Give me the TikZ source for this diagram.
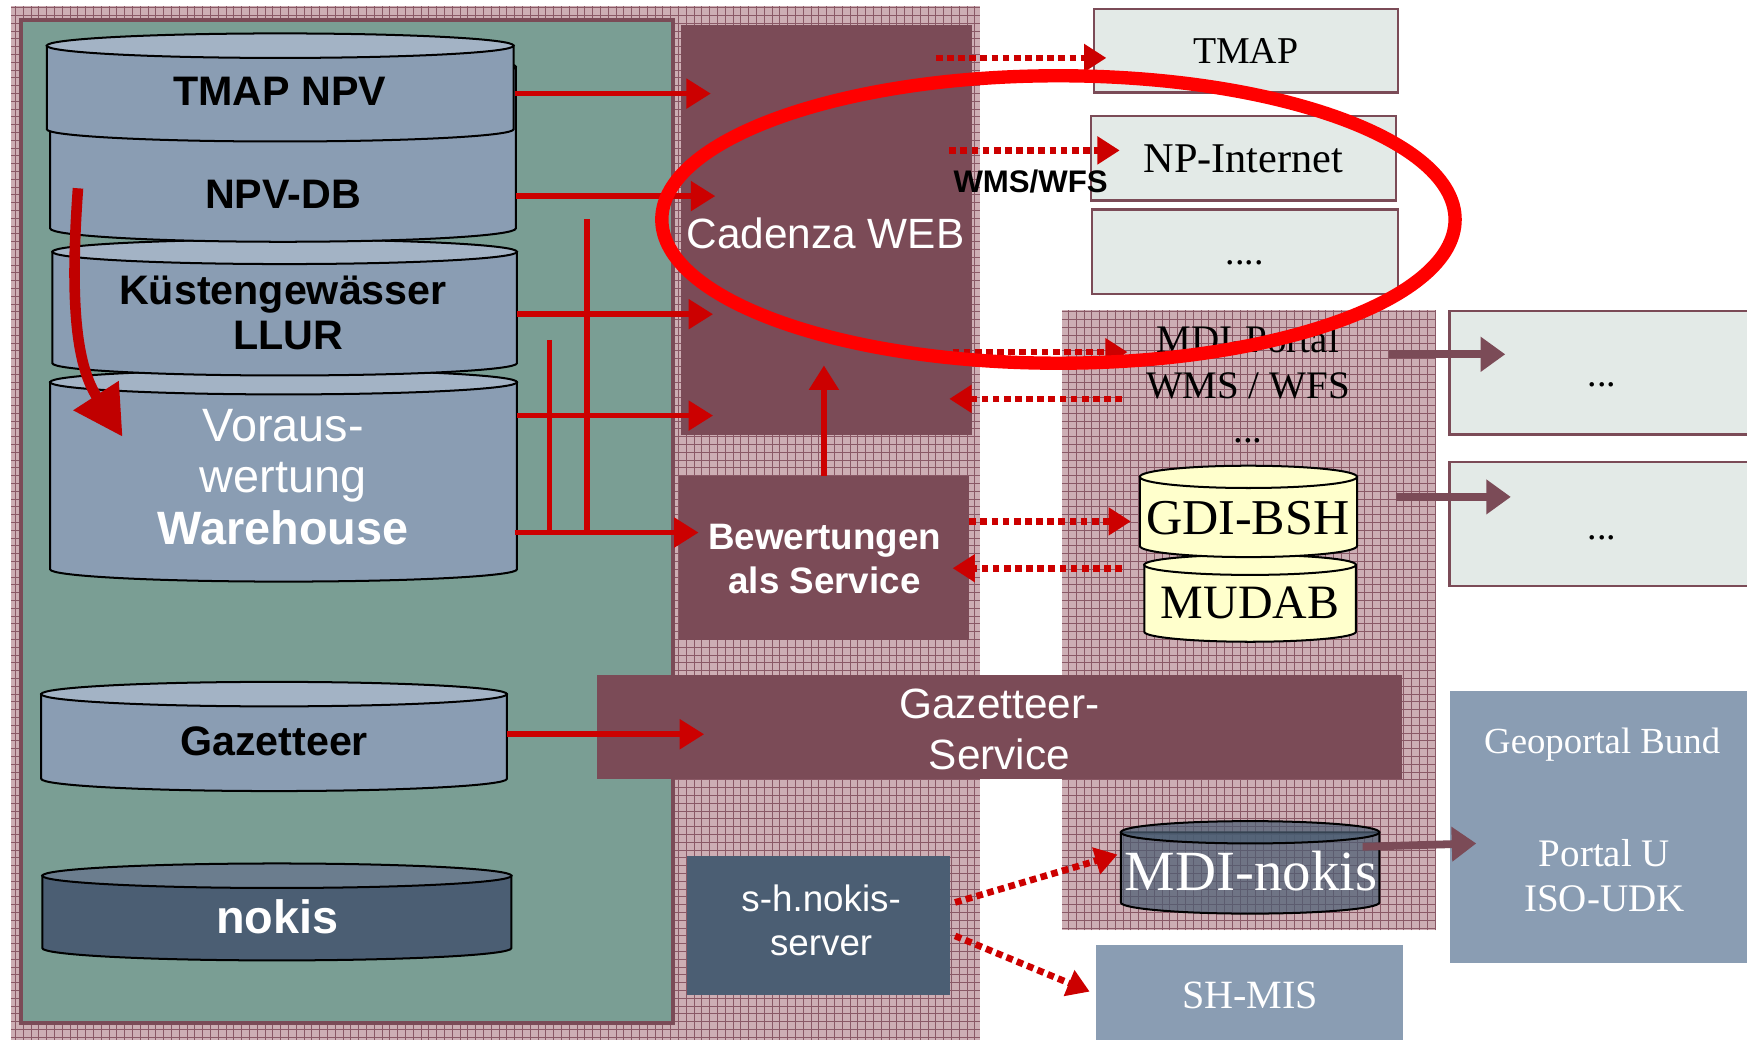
\documentclass[tikz,border=0pt]{standalone}
\usepackage{fontspec}
\setmainfont{Liberation Serif}
\newfontfamily\arialf{Liberation Sans}
\usetikzlibrary{arrows.meta}
\definecolor{mauve}{HTML}{7B4B57}
\definecolor{greenpanel}{HTML}{7A9E94}
\definecolor{cylbody}{HTML}{8A9DB3}
\definecolor{cyltop}{HTML}{A3B3C5}
\definecolor{slate}{HTML}{4B5E73}
\definecolor{slatetop}{HTML}{6B7D8E}
\definecolor{lightbox}{HTML}{E3EAE7}
\definecolor{yellowcyl}{HTML}{FFFFCC}
\definecolor{arrred}{HTML}{CC0000}
\definecolor{curvred}{HTML}{C00000}
\definecolor{hatchbg}{HTML}{CDAEB4}
\definecolor{hatchline}{HTML}{8A5966}
\newcommand\fsz[2]{\fontsize{#1}{#2}\selectfont}
\newcommand\hatchrect[4]{%
  \fill[hatchbg] (#1,#2) rectangle (#3,#4);
  \begin{scope}
    \clip (#1,#2) rectangle (#3,#4);
    \draw[hatchline, line width=0.9] (#1,#4) grid[step=7pt] (#3,#2);
  \end{scope}}
\newcommand\dbcyl[8]{% x1 x2 ytop ybot ry body top extra
  \pgfmathsetmacro\cylr{(#2-#1)/2}
  \pgfmathsetmacro\cylx{(#1+#2)/2}
  \filldraw[cylline, fill=#6, #8] (#1,#3) -- (#1,#4) arc[start angle=180,end angle=0,x radius=\cylr,y radius=#5] -- (#2,#3) -- cycle;
  \filldraw[cylline, fill=#7, #8] (\cylx,#3) ellipse[x radius=\cylr, y radius=#5];}
\tikzset{
  cylline/.style={draw=black, line width=1.8},
  mbox/.style={rectangle, inner sep=0, outer sep=0, fill=mauve},
  lbox/.style={rectangle, inner sep=0, outer sep=0, fill=lightbox, draw=mauve, line width=2},
  bbox/.style={rectangle, inner sep=0, outer sep=0, fill=cylbody},
  txt/.style={inner sep=0, anchor=base, align=center},
  sansB/.style={txt, font=\arialf\bfseries\fsz{#1}{#1}},
  sansR/.style={txt, font=\arialf\fsz{#1}{#1}},
  serifR/.style={txt, font=\fsz{#1}{#1}},
  redarr/.style={draw=arrred, line width=5, -{Triangle[length=22pt,width=26pt]}},
  redline/.style={draw=arrred, line width=5},
  dotarr/.style={draw=arrred, line width=6, dash pattern=on 6pt off 4pt, -{Triangle[length=20pt,width=24pt]}},
  mauvearr/.style={draw=mauve, line width=7, -{Triangle[length=22pt,width=30pt]}},
}
\begin{document}
\begin{tikzpicture}[x=1pt,y=-1pt]
\useasboundingbox[fill=white] (0,0) rectangle (1568,933);
% patterned regions
\hatchrect{10}{5}{880}{940}
\hatchrect{953}{278}{1289}{835}
% green panel
\filldraw[fill=greenpanel, draw=mauve, line width=4] (19,18) rectangle (604,918);
% boxes
\node[mbox, minimum width=261, minimum height=368] (cadenza) at (741.5,206) {};
\node[mbox, minimum width=261, minimum height=147] (bew) at (739.5,500.5) {};
\node[mbox, minimum width=722, minimum height=93] (gazserv) at (897,652.5) {};
\node[rectangle, inner sep=0, fill=slate, minimum width=236, minimum height=125] (nokisserver) at (735,830.5) {};
\node[lbox, minimum width=273, minimum height=75] (tmap) at (1118.5,45.5) {};
\node[lbox, minimum width=274, minimum height=76] (npint) at (1116,142) {};
\node[lbox, minimum width=275, minimum height=76] (dotsbox) at (1117.5,226) {};
\node[lbox, minimum width=280, minimum height=111] (rbox1) at (1441,334.5) {};
\node[lbox, minimum width=280, minimum height=111] (rbox2) at (1441,470.5) {};
\node[bbox, minimum width=279, minimum height=244] (geo) at (1440.5,742) {};
\node[bbox, minimum width=275, minimum height=92] (shmis) at (1121.5,894) {};
% left cylinders
\dbcyl{45}{464}{343}{511}{11}{cylbody}{cyltop}{}
\dbcyl{47}{464}{226}{326}{11}{cylbody}{cyltop}{}
\dbcyl{45}{463}{60}{205}{12}{cylbody}{cyltop}{}
\dbcyl{42}{461}{41}{116}{11}{cylbody}{cyltop}{}
\dbcyl{37}{455}{623}{699}{11}{cylbody}{cyltop}{}
\dbcyl{38}{459}{786}{851}{11}{slate}{slatetop}{}
% right cylinders
\dbcyl{1027}{1217}{507}{567}{9}{yellowcyl}{yellowcyl}{}
\dbcyl{1023}{1218}{428}{490}{10}{yellowcyl}{yellowcyl}{}
\dbcyl{1006}{1238}{747}{810}{10}{slate}{slate}{fill opacity=0.72}
% connector end points on the cylinders
\coordinate (tmapnpv) at (462,84);
\coordinate (npvdb) at (463,176);
\coordinate (kuesten) at (464,282);
\coordinate (warehouse) at (464,373);
\coordinate (warehouseB) at (462,478);
\coordinate (gazetteer) at (455,659);
\coordinate (gdibsh) at (1015,468);
\coordinate (mdiportal) at (1012,316);
\coordinate (mdinokis) at (1003,767);
\coordinate (curvestart) at (70,169);
\coordinate (curveend) at (110,392);
% texts left
\node[sansB=37] (t1) at (251,95) {TMAP NPV};
\node[sansB=37] (t2) at (254,187) {NPV-DB};
\node[sansB=37] (t3) at (254,273) {Küstengewässer};
\node[sansB=37] (t4) at (259,314) {LLUR};
\node[sansR=42, text=white] (t5) at (254,396) {Voraus-};
\node[sansR=42, text=white] (t6) at (254,442) {wertung};
\node[sansB=42, text=white] (t7) at (254,489) {Warehouse};
\node[sansB=37] (t8) at (246,678) {Gazetteer};
\node[sansB=42, text=white] (t9) at (249,838) {nokis};
% texts middle
\node[sansR=38, text=white] (t10) at (741,223) {Cadenza WEB};
\node[sansB=33, text=white] (t11) at (740,493) {Bewertungen};
\node[sansB=33, text=white] (t12) at (740,533) {als Service};
\node[sansR=38, text=white] (t13) at (897,645) {Gazetteer-};
\node[sansR=38, text=white] (t14) at (897,691) {Service};
\node[sansR=33, text=white] (t15) at (737,818) {s-h.nokis-};
\node[sansR=33, text=white] (t16) at (737,858) {server};
\node[sansB=28] (t17) at (925,173) {WMS/WFS};
% texts right
\node[serifR=34] (t18) at (1118,57) {TMAP};
\node[serifR=38] (t19) at (1116,155) {NP-Internet};
\node[serifR=34] (t20) at (1117,237) {....};
\node[serifR=35] (t21) at (1120,316) {MDI-Portal};
\node[serifR=35] (t22) at (1120,358) {WMS / WFS};
\node[serifR=35] (t23) at (1120,397) {...};
\node[serifR=45] (t24) at (1120,480) {GDI-BSH};
\node[serifR=43] (t25) at (1122,555) {MUDAB};
\node[serifR=51, text=white] (t26) at (1123,799) {MDI-nokis};
\node[serifR=34] (t27) at (1438,347) {...};
\node[serifR=34] (t28) at (1438,484) {...};
\node[serifR=33, text=white] (t29) at (1438,676) {Geoportal Bund};
\node[serifR=35, text=white] (t30) at (1440,778) {Portal U};
\node[serifR=35, text=white] (t31) at (1440,818) {ISO-UDK};
\node[serifR=36, text=white] (t32) at (1122,905) {SH-MIS};
% red solid arrows
\draw[redarr] (tmapnpv) -- ([xshift=27]cadenza.west |- tmapnpv);
\draw[redarr] (npvdb) -- ([xshift=31]cadenza.west |- npvdb);
\draw[redarr] (kuesten) -- ([xshift=29]cadenza.west |- kuesten);
\draw[redarr] (warehouse) -- ([xshift=29]cadenza.west |- warehouse);
\draw[redarr] (warehouseB) -- ([xshift=18]bew.west |- warehouseB);
\draw[redline] (527,197) -- (527,478);
\draw[redline] (493,305) -- (493,478);
\draw[redarr] (gazetteer) -- ([xshift=96]gazserv.west |- gazetteer);
\draw[redarr] (bew.north) -- ([yshift=62]cadenza.south -| bew.north);
% curved arrow
\draw[draw=curvred, line width=9.5, -{Triangle[length=44pt,width=46pt]}] (curvestart) .. controls (62,280) and (70,330) .. (curveend);
% dotted arrows
\draw[dotarr] ([xshift=-32]cadenza.east |- 0,52) -- ([xshift=11]tmap.west |- 0,52);
\draw[dotarr] ([xshift=-20]cadenza.east |- 0,135) -- ([xshift=26]npint.west |- 0,135);
\draw[dotarr] ([xshift=-17]cadenza.east |- mdiportal) -- (mdiportal);
\draw[dotarr] (1007,358) -- ([xshift=-20]cadenza.east |- 0,358);
\draw[dotarr] (bew.east |- gdibsh) -- (gdibsh);
\draw[dotarr] (1007,510) -- ([xshift=-15]bew.east |- 0,510);
\draw[dotarr] ([xshift=4]nokisserver.east |- 0,810) -- (mdinokis);
\draw[dotarr] ([xshift=4]nokisserver.east |- 0,840) -- ([xshift=-6]shmis.west |- 0,890);
% mauve arrows
\draw[mauvearr] (1247,318) -- ([xshift=50]rbox1.west |- 0,318);
\draw[mauvearr] (1253,446) -- ([xshift=55]rbox2.west |- 0,446);
\draw[mauvearr] (1223,760) -- ([xshift=24]geo.west |- 0,757);
% big red ellipse
\draw[draw=red, line width=12] (950,197) ellipse[x radius=356, y radius=129];
\end{tikzpicture}
\end{document}
